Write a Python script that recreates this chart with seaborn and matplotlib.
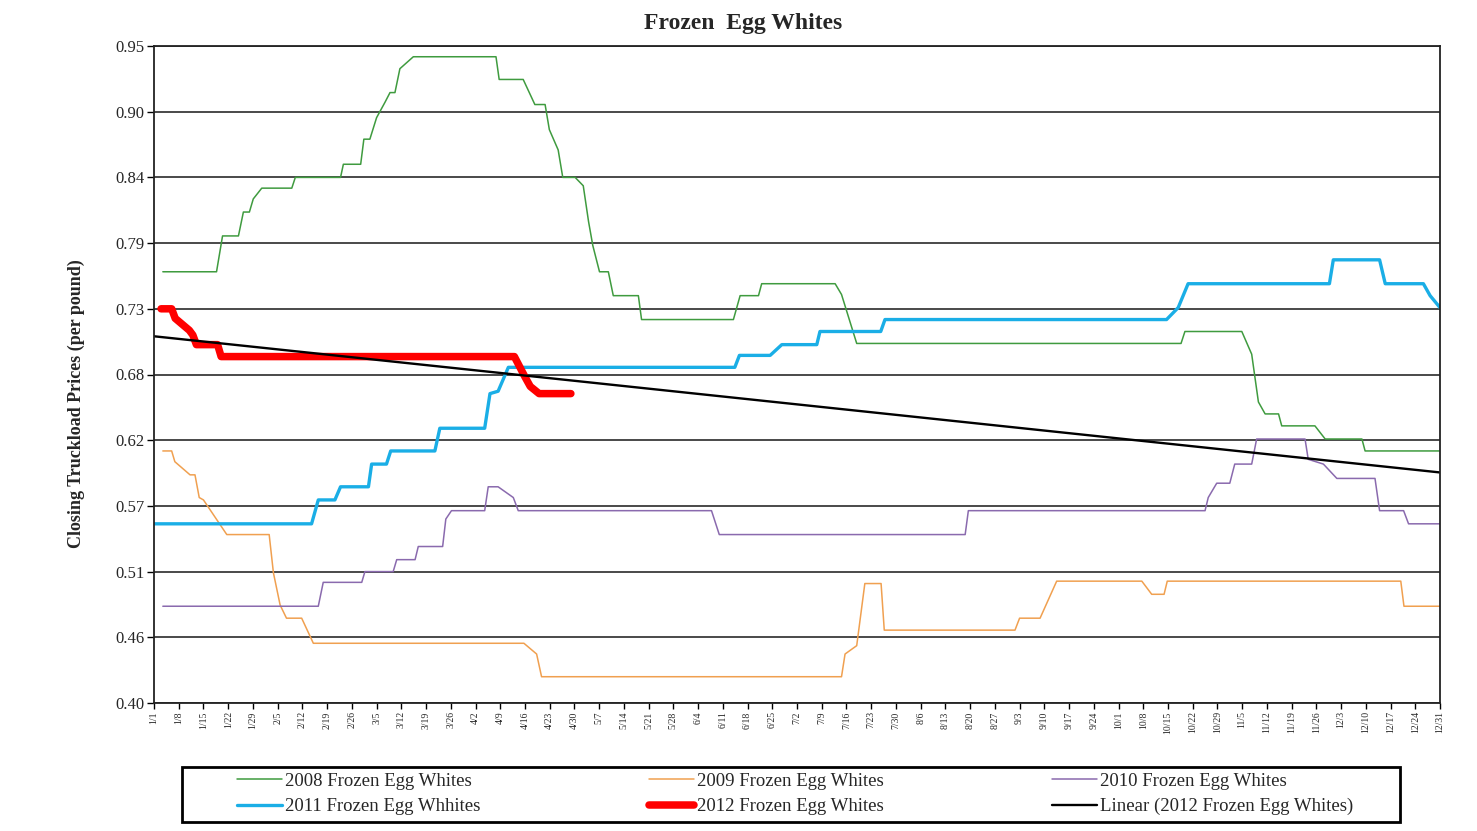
import matplotlib
matplotlib.use("Agg")
import matplotlib.pyplot as plt
from matplotlib.patches import Rectangle
import seaborn as sns

# Weekly tick labels (day-of-year positions 0, 7, ..., 364)
week_labels = ["1/1", "1/8", "1/15", "1/22", "1/29", "2/5", "2/12", "2/19", "2/26",
               "3/5", "3/12", "3/19", "3/26", "4/2", "4/9", "4/16", "4/23", "4/30",
               "5/7", "5/14", "5/21", "5/28", "6/4", "6/11", "6/18", "6/25", "7/2",
               "7/9", "7/16", "7/23", "7/30", "8/6", "8/13", "8/20", "8/27", "9/3",
               "9/10", "9/17", "9/24", "10/1", "10/8", "10/15", "10/22", "10/29",
               "11/5", "11/12", "11/19", "11/26", "12/3", "12/10", "12/17", "12/24",
               "12/31"]

y_ticks = [0.40, 0.455, 0.51, 0.565, 0.62, 0.675, 0.73, 0.785, 0.84, 0.895, 0.95]
y_tick_labels = ["0.40", "0.46", "0.51", "0.57", "0.62", "0.68", "0.73", "0.79",
                 "0.84", "0.90", "0.95"]

# Closing truckload prices ($/lb) at the days where the price changes
days_2008 = [2.5, 17.7, 19.4, 23.9, 25.3, 27.0, 28.1, 30.5, 39, 40, 52.8, 53.6, 58.5,
             59.4, 61.1, 63, 65.4, 66.8, 68.2, 69.6, 73.4, 96.8, 97.7, 104.5, 107.8,
             110.7, 111.9, 114.4, 115.7, 119.2, 121.5, 123, 124.2, 126.1, 128.6, 130,
             137.1, 138, 164, 165.9, 171.1, 172, 192.8, 194.6, 198.9, 290.7, 291.8,
             307.9, 310.7, 312.6, 314.5, 318.3, 319.2, 328.6, 331.5, 341.9, 342.8, 364]
price_2008 = [0.761, 0.761, 0.791, 0.791, 0.811, 0.811, 0.822, 0.831, 0.831, 0.840,
              0.840, 0.851, 0.851, 0.872, 0.872, 0.890, 0.903, 0.911, 0.911, 0.931,
              0.941, 0.941, 0.922, 0.922, 0.901, 0.901, 0.880, 0.863, 0.840, 0.840,
              0.833, 0.803, 0.783, 0.761, 0.761, 0.741, 0.741, 0.721, 0.721, 0.741,
              0.741, 0.751, 0.751, 0.742, 0.701, 0.701, 0.711, 0.711, 0.692, 0.652,
              0.642, 0.642, 0.632, 0.632, 0.621, 0.621, 0.611, 0.611]

days_2009 = [2.5, 5, 5.9, 10.2, 11.6, 12.8, 14, 20.6, 32.6, 33.8, 35.7, 37.5, 41.8,
             45.1, 104.7, 108.3, 109.7, 194.6, 195.6, 198.9, 201.2, 205.8, 206.7,
             243.7, 245, 250.8, 255.5, 279.6, 282.4, 285.9, 286.8, 352.9, 353.8, 364]
price_2009 = [0.611, 0.611, 0.602, 0.591, 0.591, 0.572, 0.570, 0.541, 0.541, 0.509,
              0.482, 0.471, 0.471, 0.450, 0.450, 0.441, 0.422, 0.422, 0.441, 0.448,
              0.500, 0.500, 0.461, 0.461, 0.471, 0.471, 0.502, 0.502, 0.491, 0.491,
              0.502, 0.502, 0.481, 0.481]

days_2010 = [2.5, 46.5, 47.9, 58.8, 59.7, 67.7, 68.7, 73.9, 74.8, 81.7, 82.6, 84.2,
             93.6, 94.6, 97.4, 101.7, 103.1, 157.8, 160, 229.6, 230.5, 297.5, 298.4,
             300.8, 304.5, 305.9, 310.7, 312.1, 325.8, 326.7, 331, 334.8, 345.6, 346.9,
             353.7, 355.1, 364]
price_2010 = [0.481, 0.481, 0.501, 0.501, 0.510, 0.510, 0.520, 0.520, 0.531, 0.531,
              0.554, 0.561, 0.561, 0.581, 0.581, 0.572, 0.561, 0.561, 0.541, 0.541,
              0.561, 0.561, 0.572, 0.584, 0.584, 0.600, 0.600, 0.621, 0.621, 0.604,
              0.600, 0.588, 0.588, 0.561, 0.561, 0.550, 0.550]

days_2011 = [0, 44.6, 46.5, 51.2, 52.8, 60.7, 61.6, 65.8, 67, 79.5, 80.9, 93.6, 95.1,
             97.4, 100.3, 164.4, 165.7, 174.4, 177.7, 187.6, 188.5, 205.7, 206.9, 286.6,
             289.9, 292.7, 332.7, 333.8, 346.9, 348.5, 359.3, 361.2, 364]
price_2011 = [0.550, 0.550, 0.570, 0.570, 0.581, 0.581, 0.600, 0.600, 0.611, 0.611,
              0.630, 0.630, 0.659, 0.661, 0.681, 0.681, 0.691, 0.691, 0.700, 0.700,
              0.711, 0.711, 0.721, 0.721, 0.731, 0.751, 0.751, 0.771, 0.771, 0.751,
              0.751, 0.741, 0.731]

days_2012 = [2, 5, 6, 10, 11, 12, 18, 19, 102, 105, 106.5, 109, 118]
price_2012 = [0.730, 0.730, 0.722, 0.712, 0.708, 0.700, 0.700, 0.690, 0.690, 0.673,
              0.665, 0.659, 0.659]

# Linear trend of the 2012 prices across the year
trend_days = [0, 364]
trend_price = [0.707, 0.593]

sns.set_theme(style="white")
plt.rcParams["font.family"] = ["Liberation Serif", "DejaVu Serif"]

W, H = 1477, 831
fig = plt.figure(figsize=(W / 100, H / 100), dpi=100)
fig.patch.set_facecolor("white")
ax = fig.add_axes([154 / W, 1 - 703 / H, (1440 - 154) / W, (703 - 46) / H])

series = [
    ("2008 Frozen Egg Whites", days_2008, price_2008, "#3f9b3f", 1.1),
    ("2009 Frozen Egg Whites", days_2009, price_2009, "#f0a050", 1.1),
    ("2010 Frozen Egg Whites", days_2010, price_2010, "#8a6aae", 1.1),
    ("2011 Frozen Egg Whhites", days_2011, price_2011, "#1aaee6", 2.4),
    ("2012 Frozen Egg Whites", days_2012, price_2012, "#ff0000", 5.4),
    ("Linear (2012 Frozen Egg Whites)", trend_days, trend_price, "#000000", 1.7),
]
for name, d, p, color, lw in series:
    sns.lineplot(x=d, y=p, ax=ax, color=color, linewidth=lw, label=name,
                 estimator=None, sort=False, solid_capstyle="round")

ax.set_xlim(0, 364)
ax.set_ylim(0.40, 0.95)
ax.set_xticks(list(range(0, 365, 7)))
ax.set_xticklabels(week_labels, rotation=90, fontsize=7)
ax.set_yticks(y_ticks)
ax.set_yticklabels(y_tick_labels, fontsize=12)
ax.set_xlabel("")
ax.set_ylabel("")
ax.yaxis.grid(True, color="#2a2a2a", linewidth=1.2)
ax.xaxis.grid(False)
ax.set_axisbelow(True)
ax.tick_params(axis="x", bottom=True, direction="out", length=4, width=1,
               color="black", pad=2)
ax.tick_params(axis="y", left=True, direction="out", length=5, width=1,
               color="black", pad=2)
for sp in ax.spines.values():
    sp.set_color("#222222")
    sp.set_linewidth(1.3)

fig.text(743 / W, 1 - 23 / H, "Frozen  Egg Whites", ha="center", va="center",
         fontsize=17, fontweight="bold")
fig.text(76 / W, 1 - 404 / H, "Closing Truckload Prices (per pound)", ha="center",
         va="center", rotation=90, fontsize=13, fontweight="bold")

# Legend: three columns, two rows inside a black box below the axis
handles, labels = ax.get_legend_handles_labels()
ax.get_legend().remove()
order = [0, 3, 1, 4, 2, 5]
leg = fig.legend([handles[i] for i in order], [labels[i] for i in order],
                 loc="center left", bbox_to_anchor=(237 / W, 1 - 794 / H),
                 ncol=3, fontsize=13.5, frameon=False, handlelength=2.4,
                 handletextpad=0.15, labelspacing=0.45, columnspacing=9.0,
                 borderpad=0, borderaxespad=0)
fig.add_artist(Rectangle((182 / W, 1 - 822 / H), (1400 - 182) / W, 55 / H,
                         transform=fig.transFigure, fill=False,
                         edgecolor="black", linewidth=2))

fig.savefig("out.png", dpi=100, facecolor="white")
